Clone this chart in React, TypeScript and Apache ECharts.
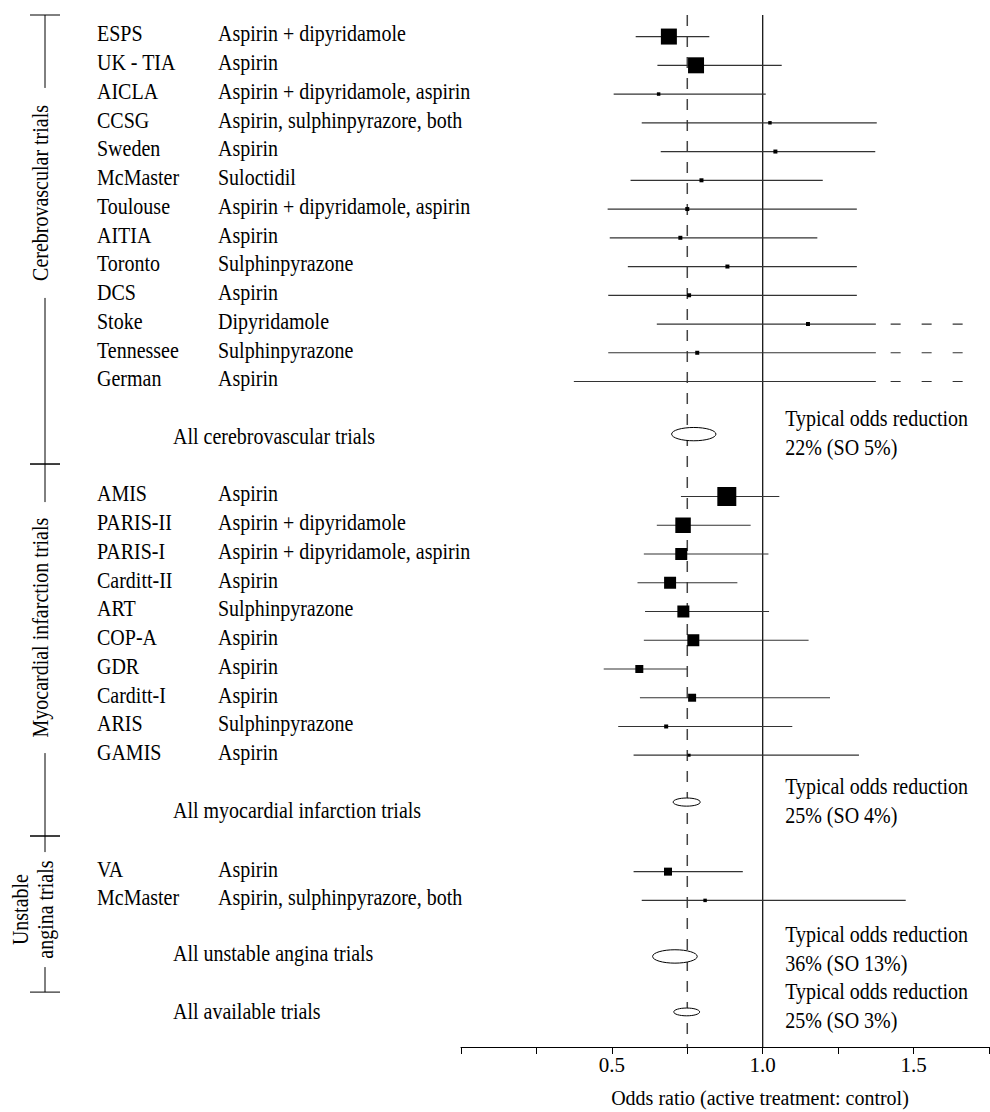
import React, { useEffect, useRef } from 'react';
import * as echarts from 'echarts';

const FONT = '"Liberation Serif", "Times New Roman", serif';

// ---------- Data ----------
// Cerebrovascular trials
const cvTrials = ['ESPS', 'UK - TIA', 'AICLA', 'CCSG', 'Sweden', 'McMaster', 'Toulouse', 'AITIA', 'Toronto', 'DCS', 'Stoke', 'Tennessee', 'German'];
const cvTreatments = ['Aspirin + dipyridamole', 'Aspirin', 'Aspirin + dipyridamole, aspirin', 'Aspirin, sulphinpyrazore, both', 'Aspirin', 'Suloctidil', 'Aspirin + dipyridamole, aspirin', 'Aspirin', 'Sulphinpyrazone', 'Aspirin', 'Dipyridamole', 'Sulphinpyrazone', 'Aspirin'];
const cvOddsRatio = [0.689, 0.779, 0.655, 1.024, 1.042, 0.797, 0.75, 0.727, 0.883, 0.756, 1.15, 0.783, null];
const cvLower = [0.579, 0.651, 0.506, 0.599, 0.662, 0.562, 0.486, 0.493, 0.553, 0.488, 0.649, 0.488, 0.374];
// null = upper limit beyond the axis (drawn truncated)
const cvUpper = [0.823, 1.063, 1.01, 1.378, 1.373, 1.199, 1.312, 1.181, 1.312, 1.312, null, null, null];
const cvWeight = [64, 64, 3, 3, 4, 4, 4, 4, 4, 4, 4, 4, 0];

// Myocardial infarction trials
const miTrials = ['AMIS', 'PARIS-II', 'PARIS-I', 'Carditt-II', 'ART', 'COP-A', 'GDR', 'Carditt-I', 'ARIS', 'GAMIS'];
const miTreatments = ['Aspirin', 'Aspirin + dipyridamole', 'Aspirin + dipyridamole, aspirin', 'Aspirin', 'Sulphinpyrazone', 'Aspirin', 'Aspirin', 'Aspirin', 'Sulphinpyrazone', 'Aspirin'];
const miOddsRatio = [0.881, 0.736, 0.73, 0.693, 0.737, 0.77, 0.591, 0.766, 0.68, 0.756];
const miLower = [0.729, 0.649, 0.606, 0.585, 0.61, 0.606, 0.473, 0.593, 0.521, 0.572];
const miUpper = [1.055, 0.96, 1.019, 0.916, 1.021, 1.152, 0.749, 1.223, 1.098, 1.319];
const miWeight = [90, 60, 36, 36, 36, 36, 16, 16, 4, 2.25];

// Unstable angina trials
const uaTrials = ['VA', 'McMaster'];
const uaTreatments = ['Aspirin', 'Aspirin, sulphinpyrazore, both'];
const uaOddsRatio = [0.686, 0.809];
const uaLower = [0.572, 0.599];
const uaUpper = [0.934, 1.474];
const uaWeight = [16, 3];

// Pooled results
const summaryLabels = ['All cerebrovascular trials', 'All myocardial infarction trials', 'All unstable angina trials', 'All available trials'];
const summaryLower = [0.698, 0.703, 0.635, 0.705];
const summaryUpper = [0.845, 0.793, 0.783, 0.791];
const oddsReduction = [22, 25, 36, 25];
const reductionSO = [5, 4, 13, 3];

const groupLabels = ['Cerebrovascular trials', 'Myocardial infarction trials', 'Unstable\nangina trials'];
const referenceOdds = [1.0, 0.75]; // no effect, typical overall odds ratio
const xTickLabels = ['0.5', '1.0', '1.5'];
const axisTitle = 'Odds ratio (active treatment: control)';

// ---------- Layout (rows in axis units) ----------
const LAYOUT = {
  rowTop: -0.75,
  rowBottom: 35.15,
  groupStartRows: [0, 16, 29.05],
  summaryLabelRows: [14, 27, 32, 34],
  summaryMarkRows: [13.83, 26.63, 32, 33.93],
  noteRows: [13.36, 26.18, 31.32, 33.31],
  bracketRows: [-0.75, 14.87, 27.81, 33.24],
  bracketTextRows: [5.44, 20.56, 30.37],
  bracketGapHalf: [105, 125.5, 57.5],
  bracketTextX: [41, 41, 33.5],
  bracketX: 45,
  nameX: 97,
  treatX: 218,
  summaryX: 173,
  textDy: -2.5,
  textScaleY: 1.13,
  axisBreak: 1.375,
  dashStart: 1.424,
  dashEnd: 1.668,
};

type Row = { row: number; name: string; treat: string; or: number | null; lo: number; hi: number | null; w: number };

function buildRows(): Row[] {
  const groups = [
    [cvTrials, cvTreatments, cvOddsRatio, cvLower, cvUpper, cvWeight],
    [miTrials, miTreatments, miOddsRatio, miLower, miUpper, miWeight],
    [uaTrials, uaTreatments, uaOddsRatio, uaLower, uaUpper, uaWeight],
  ] as any[];
  const rows: Row[] = [];
  groups.forEach((g, gi) => {
    (g[0] as string[]).forEach((name, i) => {
      rows.push({ row: LAYOUT.groupStartRows[gi] + i, name, treat: g[1][i], or: g[2][i], lo: g[3][i], hi: g[4][i], w: g[5][i] });
    });
  });
  return rows;
}

const textEl = (text: string, x: number, y: number, align = 'left') => ({
  type: 'text',
  x,
  y,
  scaleY: LAYOUT.textScaleY,
  style: { text, x: 0, y: 0, fill: '#000', fontSize: 20, fontFamily: FONT, align, verticalAlign: 'middle' },
});

export default function App() {
  const ref = useRef<HTMLDivElement>(null);

  useEffect(() => {
    if (!ref.current) return;
    const chart = echarts.init(ref.current, null, { renderer: 'svg' });
    const rows = buildRows();

    const refSeries = {
      type: 'custom',
      z: 1,
      clip: false,
      silent: true,
      data: referenceOdds.map((v) => [v, 0]),
      renderItem: (params: any, api: any) => {
        const v = referenceOdds[params.dataIndex];
        const p1 = api.coord([v, LAYOUT.rowTop]);
        const p2 = api.coord([v, LAYOUT.rowBottom]);
        const solid = params.dataIndex === 0;
        return {
          type: 'line',
          shape: { x1: p1[0], y1: p1[1], x2: p2[0], y2: p2[1] },
          style: solid
            ? { stroke: '#000', lineWidth: 1.2 }
            : { stroke: '#444', lineWidth: 1.5, lineDash: [11, 10] },
        };
      },
    };

    const trialSeries = {
      type: 'custom',
      z: 2,
      clip: false,
      silent: true,
      data: rows.map((r) => [r.lo, r.row]),
      renderItem: (params: any, api: any) => {
        const r = rows[params.dataIndex];
        const y = api.coord([0, r.row])[1];
        const xOf = (v: number) => api.coord([v, r.row])[0];
        const children: any[] = [
          textEl(r.name, LAYOUT.nameX, y + LAYOUT.textDy),
          textEl(r.treat, LAYOUT.treatX, y + LAYOUT.textDy),
        ];
        const hiSolid = r.hi == null ? LAYOUT.axisBreak : r.hi;
        children.push({
          type: 'line',
          shape: { x1: xOf(r.lo), y1: y, x2: xOf(hiSolid), y2: y },
          style: { stroke: '#333', lineWidth: 1.2 },
        });
        if (r.hi == null) {
          children.push({
            type: 'line',
            shape: { x1: xOf(LAYOUT.dashStart), y1: y, x2: xOf(LAYOUT.dashEnd), y2: y },
            style: { stroke: '#333', lineWidth: 1.2, lineDash: [10, 21] },
          });
        }
        if (r.or != null && r.w > 0) {
          const s = 2 * Math.sqrt(r.w);
          const cx = xOf(r.or);
          children.push({
            type: 'rect',
            shape: { x: cx - s / 2, y: y - s / 2, width: s, height: s },
            style: { fill: '#000' },
          });
        }
        return { type: 'group', children };
      },
    };

    const summarySeries = {
      type: 'custom',
      z: 10,
      clip: false,
      silent: true,
      data: summaryLabels.map((_, i) => [(summaryLower[i] + summaryUpper[i]) / 2, LAYOUT.summaryMarkRows[i]]),
      renderItem: (params: any, api: any) => {
        const i = params.dataIndex;
        const ey = api.coord([0, LAYOUT.summaryMarkRows[i]])[1];
        const x1 = api.coord([summaryLower[i], 0])[0];
        const x2 = api.coord([summaryUpper[i], 0])[0];
        const rx = (x2 - x1) / 2;
        const ly = api.coord([0, LAYOUT.summaryLabelRows[i]])[1] + LAYOUT.textDy;
        const ny = api.coord([0, LAYOUT.noteRows[i]])[1] + LAYOUT.textDy;
        const ny2 = api.coord([0, LAYOUT.noteRows[i] + 1.01])[1] + LAYOUT.textDy;
        const noteX = api.coord([referenceOdds[0], 0])[0] + 22.5;
        return {
          type: 'group',
          children: [
            {
              type: 'ellipse',
              shape: { cx: (x1 + x2) / 2, cy: ey, rx, ry: rx * 0.3 },
              style: { fill: '#fff', stroke: '#000', lineWidth: 1 },
            },
            textEl(summaryLabels[i], LAYOUT.summaryX, ly),
            textEl('Typical odds reduction', noteX, ny),
            textEl(`${oddsReduction[i]}% (SO ${reductionSO[i]}%)`, noteX, ny2),
          ],
        };
      },
    };

    const bracketSeries = {
      type: 'custom',
      z: 2,
      clip: false,
      silent: true,
      data: groupLabels.map((_, i) => [0, LAYOUT.bracketTextRows[i]]),
      renderItem: (params: any, api: any) => {
        const i = params.dataIndex;
        const yTop = api.coord([0, LAYOUT.bracketRows[i]])[1];
        const yBot = api.coord([0, LAYOUT.bracketRows[i + 1]])[1];
        const yc = api.coord([0, LAYOUT.bracketTextRows[i]])[1];
        const g = LAYOUT.bracketGapHalf[i];
        const bx = LAYOUT.bracketX;
        const ls = { stroke: '#000', lineWidth: 1 };
        return {
          type: 'group',
          children: [
            { type: 'line', shape: { x1: bx, y1: yTop, x2: bx, y2: yc - g }, style: ls },
            { type: 'line', shape: { x1: bx, y1: yc + g, x2: bx, y2: yBot }, style: ls },
            { type: 'line', shape: { x1: bx - 15, y1: yTop, x2: bx + 15, y2: yTop }, style: ls },
            { type: 'line', shape: { x1: bx - 15, y1: yBot, x2: bx + 15, y2: yBot }, style: ls },
            {
              type: 'text',
              x: LAYOUT.bracketTextX[i],
              y: yc,
              rotation: Math.PI / 2,
              scaleY: LAYOUT.textScaleY,
              style: {
                text: groupLabels[i], x: 0, y: 0, fill: '#000', fontSize: 20, fontFamily: FONT,
                align: 'center', verticalAlign: 'middle', lineHeight: 22,
              },
            },
          ],
        };
      },
    };

    const option: any = {
      animation: false,
      backgroundColor: '#fff',
      textStyle: { fontFamily: FONT },
      grid: { left: 461, top: 15, width: 528, height: 1032, containLabel: false, outerBoundsMode: 'none' },
      xAxis: {
        type: 'value',
        min: 0,
        max: 1.75,
        interval: 0.25,
        splitLine: { show: false },
        axisLine: { show: true, onZero: false, lineStyle: { color: '#000', width: 1 } },
        axisTick: { show: true, inside: false, length: 7, lineStyle: { color: '#000', width: 1 } },
        axisLabel: {
          margin: 7,
          color: '#000',
          fontSize: 21,
          fontFamily: FONT,
          showMinLabel: true,
          showMaxLabel: true,
          formatter: (v: number) => {
            const s = v.toFixed(1);
            return xTickLabels.includes(s) && Math.abs(v - parseFloat(s)) < 1e-9 ? s : '';
          },
        },
        name: axisTitle,
        nameLocation: 'middle',
        nameGap: 41,
        nameTextStyle: { fontSize: 20, fontFamily: FONT, color: '#000', padding: [0, 0, 0, 70] },
      },
      yAxis: { type: 'value', inverse: true, min: LAYOUT.rowTop, max: LAYOUT.rowBottom, show: false },
      series: [refSeries, trialSeries, summarySeries, bracketSeries],
    };

    chart.setOption(option);
    return () => chart.dispose();
  }, []);

  return <div ref={ref} style={{ position: 'absolute', left: 0, top: 0, width: 990, height: 1112, background: '#fff' }} />;
}
